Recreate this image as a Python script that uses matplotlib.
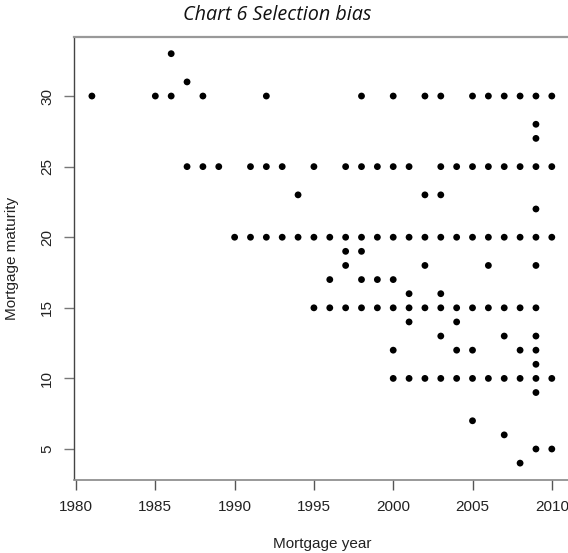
import matplotlib
matplotlib.use("Agg")
import matplotlib.pyplot as plt

# Data (mortgage year, mortgage maturity)
years = [
    1981, 1985, 1986, 1988, 1992, 1998, 2000, 2002, 2003, 2005, 2006, 2007, 2008, 2009, 2010,  # 30
    1986,  # 33
    1987,  # 31
    2009, 2009,  # 28, 27
    1987, 1988, 1989, 1991, 1992, 1993, 1995, 1997, 1998, 1999, 2000, 2001, 2003, 2004, 2005,
    2006, 2007, 2008, 2009, 2010,  # 25
    1994, 2002, 2003,  # 23
    2009,  # 22
    1990, 1991, 1992, 1993, 1994, 1995, 1996, 1997, 1998, 1999, 2000, 2001, 2002, 2003, 2004,
    2005, 2006, 2007, 2008, 2009, 2010,  # 20
    1997, 1998,  # 19
    1997, 2002, 2006, 2009,  # 18
    1996, 1998, 1999, 2000,  # 17
    2001, 2003,  # 16
    1995, 1996, 1997, 1998, 1999, 2000, 2001, 2002, 2003, 2004, 2005, 2006, 2007, 2008, 2009,  # 15
    2001, 2004,  # 14
    2003, 2007, 2009,  # 13
    2000, 2004, 2005, 2008, 2009,  # 12
    2009,  # 11
    2000, 2001, 2002, 2003, 2004, 2005, 2006, 2007, 2008, 2009, 2010,  # 10
    2009,  # 9
    2005,  # 7
    2007,  # 6
    2009, 2010,  # 5
    2008,  # 4
]
maturity = (
    [30] * 15 + [33] + [31] + [28, 27] + [25] * 20 + [23] * 3 + [22] + [20] * 21
    + [19] * 2 + [18] * 4 + [17] * 4 + [16] * 2 + [15] * 15 + [14] * 2 + [13] * 3
    + [12] * 5 + [11] + [10] * 11 + [9] + [7] + [6] + [5] * 2 + [4]
)

x_ticks = [1980, 1985, 1990, 1995, 2000, 2005, 2010]
y_ticks = [5, 10, 15, 20, 25, 30]

W, H = 568, 553
fig = plt.figure(figsize=(W / 100, H / 100), dpi=100)
left, right, top, bottom = 73.5, 570.2, 37.3, 479.5
ax = fig.add_axes([left / W, 1 - bottom / H, (right - left) / W, (bottom - top) / H])

ax.scatter(years, maturity, s=24, color="black", edgecolors="none", zorder=3)

ax.set_xlim(1979.84, 2011.16)
ax.set_ylim(2.84, 34.16)
ax.set_xticks(x_ticks)
ax.set_yticks(y_ticks)

font = ["Liberation Sans", "DejaVu Sans"]
fs = 11
ax.set_xticklabels([str(v) for v in x_ticks], family=font, fontsize=fs, color="#222222")
ax.set_yticklabels([str(v) for v in y_ticks], family=font, fontsize=fs, color="#222222",
                   rotation=90, va="center")
ax.tick_params(axis="x", direction="out", length=7, width=1.0, color="#555555", pad=8)
ax.tick_params(axis="y", direction="out", length=7, width=1.0, color="#777777", pad=7)

ax.spines["top"].set_color("#999999")
ax.spines["top"].set_linewidth(1.6)
ax.spines["left"].set_color("#444444")
ax.spines["left"].set_linewidth(1.0)
ax.spines["bottom"].set_color("#888888")
ax.spines["bottom"].set_linewidth(1.2)
ax.spines["right"].set_color("#888888")

ax.set_xlabel("Mortgage year", family=font, fontsize=fs, color="#222222", labelpad=16.5)
ax.set_ylabel("Mortgage maturity", family=font, fontsize=fs, color="#222222", labelpad=15)

fig.text(277.5 / W, 1 - 15 / H, "Chart 6 Selection bias", ha="center", va="center",
         family=["Open Sans", "DejaVu Sans"], style="italic", fontsize=14.2, color="#111111")

fig.savefig("out.png", dpi=100)
